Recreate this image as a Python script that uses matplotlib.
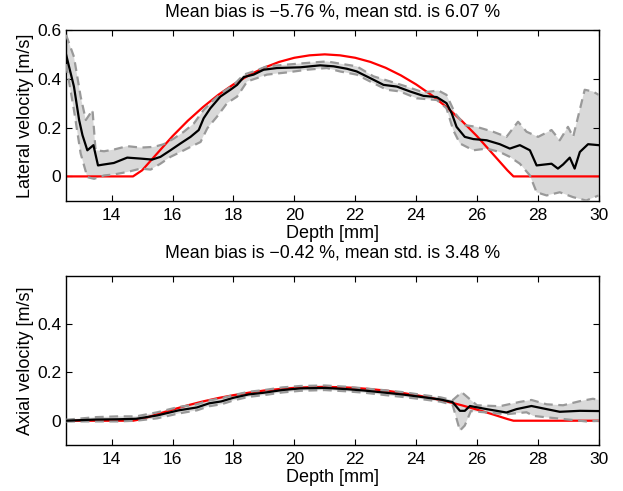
import numpy as np
import matplotlib
matplotlib.use("Agg")
import matplotlib.pyplot as plt

plt.rcParams['font.family'] = ['Liberation Sans', 'DejaVu Sans']
plt.rcParams['font.size'] = 13

# ---- lateral velocity (top) ----
lat_true_x = [12.5, 14.7, 15.0, 15.5, 16.0, 16.5, 17.0, 17.5, 18.0, 18.5, 19.0, 19.5, 20.0, 20.5, 21.0,
              21.5, 22.0, 22.5, 23.0, 23.5, 24.0, 24.5, 25.0, 25.5, 26.0, 26.5, 27.0, 27.2, 30.0]
lat_true_y = [0.0, 0.0, 0.025, 0.095, 0.165, 0.228, 0.284, 0.334, 0.377, 0.414, 0.445, 0.469, 0.486, 0.496, 0.5,
              0.496, 0.486, 0.469, 0.445, 0.414, 0.377, 0.334, 0.284, 0.228, 0.165, 0.095, 0.025, 0.0, 0.0]

lat_mean_x = [12.5, 12.76, 12.93, 13.04, 13.2, 13.4, 13.55, 13.75, 14.07, 14.51, 14.95, 15.33, 15.6, 15.93,
              16.26, 16.59, 16.86, 17.02, 17.24, 17.57, 17.9, 18.12, 18.34, 18.66, 18.99, 19.43, 20.2, 20.85,
              21.29, 21.73, 22.05, 22.6, 22.93, 23.37, 23.8, 24.24, 24.68, 25.0, 25.17, 25.33, 25.6, 25.88,
              26.32, 26.75, 27.08, 27.41, 27.74, 27.96, 28.45, 28.66, 28.83, 29.05, 29.21, 29.38, 29.65, 30.0]
lat_mean_y = [0.5, 0.368, 0.231, 0.169, 0.107, 0.128, 0.045, 0.049, 0.055, 0.077, 0.073, 0.069, 0.08, 0.107,
              0.135, 0.162, 0.19, 0.238, 0.279, 0.327, 0.355, 0.375, 0.407, 0.417, 0.437, 0.444, 0.447, 0.455,
              0.451, 0.441, 0.43, 0.396, 0.375, 0.368, 0.348, 0.33, 0.325, 0.3, 0.259, 0.203, 0.162, 0.153,
              0.148, 0.132, 0.114, 0.128, 0.107, 0.045, 0.052, 0.032, 0.049, 0.077, 0.032, 0.1, 0.132, 0.128]

lat_up_x = [12.5, 12.76, 12.98, 13.15, 13.37, 13.47, 13.75, 14.07, 14.51, 14.95, 15.39, 15.71, 16.04, 16.37,
            16.7, 17.02, 17.35, 17.68, 18.01, 18.34, 18.66, 19.1, 19.76, 20.63, 21.07, 21.5, 22.05, 22.6,
            23.15, 23.69, 24.24, 24.73, 25.0, 25.28, 25.6, 25.99, 26.53, 26.97, 27.35, 27.63, 28.01, 28.45,
            28.72, 28.99, 29.16, 29.54, 29.81, 30.0]
lat_up_y = [0.58, 0.49, 0.327, 0.231, 0.272, 0.107, 0.103, 0.11, 0.124, 0.118, 0.121, 0.132, 0.155, 0.183,
            0.217, 0.272, 0.313, 0.348, 0.375, 0.417, 0.43, 0.451, 0.458, 0.467, 0.471, 0.462, 0.451, 0.41,
            0.389, 0.368, 0.344, 0.352, 0.334, 0.259, 0.21, 0.203, 0.183, 0.162, 0.224, 0.183, 0.162, 0.19,
            0.148, 0.203, 0.162, 0.355, 0.348, 0.334]

lat_lo_x = [12.5, 12.76, 12.98, 13.2, 13.42, 13.75, 14.07, 14.51, 14.95, 15.28, 15.6, 15.93, 16.26, 16.59,
            16.92, 17.14, 17.46, 17.79, 18.12, 18.45, 18.78, 19.1, 19.76, 20.41, 21.07, 21.5, 22.05, 22.6,
            23.04, 23.47, 24.02, 24.68, 25.0, 25.22, 25.44, 25.88, 26.32, 26.75, 27.08, 27.41, 27.74, 27.96,
            28.29, 28.72, 29.16, 29.59, 30.0]
lat_lo_y = [0.46, 0.272, 0.094, -0.003, -0.01, 0.004, 0.008, 0.018, 0.032, 0.028, 0.052, 0.08, 0.1, 0.121,
            0.141, 0.197, 0.245, 0.3, 0.327, 0.389, 0.403, 0.417, 0.426, 0.437, 0.444, 0.43, 0.417, 0.382,
            0.355, 0.348, 0.32, 0.313, 0.279, 0.19, 0.135, 0.107, 0.114, 0.1, 0.08, 0.052, 0.004, -0.065,
            -0.078, -0.065, -0.085, -0.099, -0.078]

# ---- axial velocity (bottom) ----
ax_true_x = [12.5, 14.7, 15.0, 15.5, 16.0, 16.5, 17.0, 17.5, 18.0, 18.5, 19.0, 19.5, 20.0, 20.5, 21.0,
             21.5, 22.0, 22.5, 23.0, 23.5, 24.0, 24.5, 25.0, 25.5, 26.0, 26.5, 27.0, 27.2, 30.0]
ax_true_y = [0.0, 0.0, 0.007, 0.027, 0.046, 0.064, 0.08, 0.094, 0.106, 0.116, 0.125, 0.131, 0.136, 0.139, 0.14,
             0.139, 0.136, 0.131, 0.125, 0.116, 0.106, 0.094, 0.08, 0.064, 0.046, 0.027, 0.007, 0.0, 0.0]

ax_mean_x = [12.5, 13.5, 14.2, 14.8, 15.5, 16.2, 16.8, 17.2, 17.6, 18.0, 18.5, 19.0, 19.6, 20.2, 21.0,
             21.7, 22.3, 23.0, 23.6, 24.2, 24.8, 25.2, 25.44, 25.6, 25.77, 26.32, 26.97, 27.3, 27.79, 28.29,
             28.72, 29.38, 30.0]
ax_mean_y = [0.0, 0.005, 0.006, 0.008, 0.022, 0.043, 0.055, 0.072, 0.08, 0.095, 0.109, 0.116, 0.127, 0.134, 0.136,
             0.131, 0.125, 0.116, 0.108, 0.098, 0.088, 0.077, 0.041, 0.041, 0.061, 0.048, 0.034, 0.048, 0.061,
             0.048, 0.037, 0.041, 0.04]

ax_up_x = [12.5, 13.5, 14.2, 14.8, 15.5, 16.2, 16.8, 17.2, 17.6, 18.0, 18.5, 19.0, 19.6, 20.2, 21.0,
           21.7, 22.3, 23.0, 23.6, 24.2, 24.8, 25.2, 25.5, 26.0, 26.75, 27.41, 27.79, 28.29, 28.83, 29.38,
           29.81, 30.0]
ax_up_y = [0.004, 0.015, 0.018, 0.018, 0.035, 0.057, 0.068, 0.084, 0.093, 0.106, 0.12, 0.127, 0.138, 0.144, 0.146,
           0.141, 0.134, 0.126, 0.118, 0.107, 0.097, 0.085, 0.118, 0.064, 0.06, 0.078, 0.086, 0.068, 0.064,
           0.081, 0.091, 0.086]

ax_lo_x = [12.5, 13.5, 14.2, 14.8, 15.5, 16.2, 16.8, 17.2, 17.6, 18.0, 18.5, 19.0, 19.6, 20.2, 21.0,
           21.7, 22.3, 23.0, 23.6, 24.2, 24.8, 25.2, 25.44, 25.6, 25.8, 26.42, 26.97, 27.63, 27.85, 28.29,
           28.99, 29.59, 30.0]
ax_lo_y = [-0.003, -0.003, -0.003, 0.0, 0.01, 0.03, 0.043, 0.06, 0.068, 0.084, 0.099, 0.106, 0.117, 0.124, 0.127,
           0.122, 0.116, 0.106, 0.098, 0.089, 0.079, 0.066, -0.041, -0.02, 0.04, 0.033, 0.027, 0.035, 0.02,
           0.014, 0.005, -0.003, 0.0]

band_color = '#d9d9d9'
dash_color = '#999999'

fig = plt.figure(figsize=(6.23, 4.91), dpi=100)
ax1 = fig.add_axes([0.106, 0.591, 0.855, 0.348])
ax2 = fig.add_axes([0.106, 0.094, 0.855, 0.344])


def panel(ax, tx, ty, mx, my, ux, uy, lx, ly, title, ylabel, yticks, tpad):
    px = list(ux) + list(lx)[::-1]
    py = list(uy) + list(ly)[::-1]
    ax.fill(px, py, color=band_color, lw=0, zorder=1)
    ax.plot(tx, ty, color='red', lw=1.6, zorder=2)
    ax.plot(ux, uy, color=dash_color, lw=1.6, ls=(0, (4, 2.5)), zorder=3)
    ax.plot(lx, ly, color=dash_color, lw=1.6, ls=(0, (4, 2.5)), zorder=3)
    ax.plot(mx, my, color='black', lw=1.6, zorder=4)
    ax.set_xlim(12.5, 30)
    ax.set_ylim(-0.1, 0.6)
    ax.set_xticks([14, 16, 18, 20, 22, 24, 26, 28, 30])
    ax.set_yticks(yticks)
    ax.set_yticklabels(['0' if v == 0 else '%g' % v for v in yticks])
    ax.tick_params(direction='in', top=True, right=True, length=4, labelsize=12.5)
    ax.tick_params(axis='x', pad=5)
    ax.set_xlabel('Depth [mm]', fontsize=13, labelpad=1.5)
    ax.set_ylabel(ylabel, fontsize=13, labelpad=2)
    ax.set_title(title, fontsize=12.8, pad=tpad)
    for s in ax.spines.values():
        s.set_linewidth(1.0)


panel(ax1, lat_true_x, lat_true_y, lat_mean_x, lat_mean_y, lat_up_x, lat_up_y, lat_lo_x, lat_lo_y,
      'Mean bias is \u22125.76 %, mean std. is 6.07 %', 'Lateral velocity [m/s]', [0, 0.2, 0.4, 0.6], 9.5)
panel(ax2, ax_true_x, ax_true_y, ax_mean_x, ax_mean_y, ax_up_x, ax_up_y, ax_lo_x, ax_lo_y,
      'Mean bias is \u22120.42 %, mean std. is 3.48 %', 'Axial velocity [m/s]', [0, 0.2, 0.4], 13)

fig.savefig('out.png', dpi=100)
